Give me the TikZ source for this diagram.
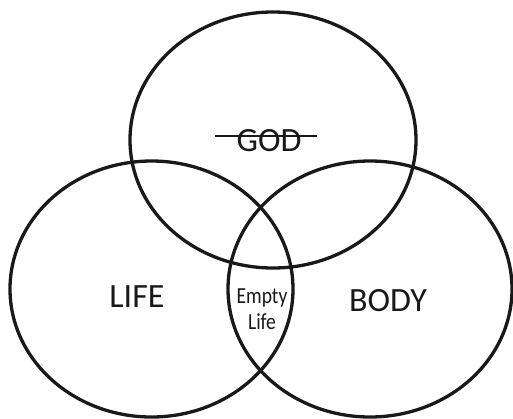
\documentclass[tikz,border=0pt]{standalone}
\usepackage{fontspec}
\setmainfont{Carlito}
\newfontfamily\condensedfont[FakeStretch=0.85]{Carlito}
\begin{document}
\begin{tikzpicture}[x=1pt,y=-1pt,
  venn/.style={draw=black!90,line width=3.3pt},
  big/.style={font=\fontsize{34}{40}\selectfont,text=black!90,inner sep=0pt},
  small/.style={font=\condensedfont\fontsize{23}{26}\selectfont,text=black!90,inner sep=0pt,align=center}]
\useasboundingbox (0,0) rectangle (513,418);
\draw[venn] (273,140) ellipse [x radius=143, y radius=128];
\draw[venn] (151.5,289) ellipse [x radius=141.5, y radius=128];
\draw[venn] (370,289) ellipse [x radius=142, y radius=128];
\node[big] (god) at (269,141) {GOD};
\coordinate (sl) at (215,136);
\coordinate (sr) at (317,136);
\draw[line width=2pt,black!90] (sl) -- (sr);
\node[big] (life) at (137,297) {LIFE};
\node[big] (body) at (388,301) {BODY};
\node[small] (empty) at (262,309) {Empty\\Life};
\end{tikzpicture}
\end{document}
